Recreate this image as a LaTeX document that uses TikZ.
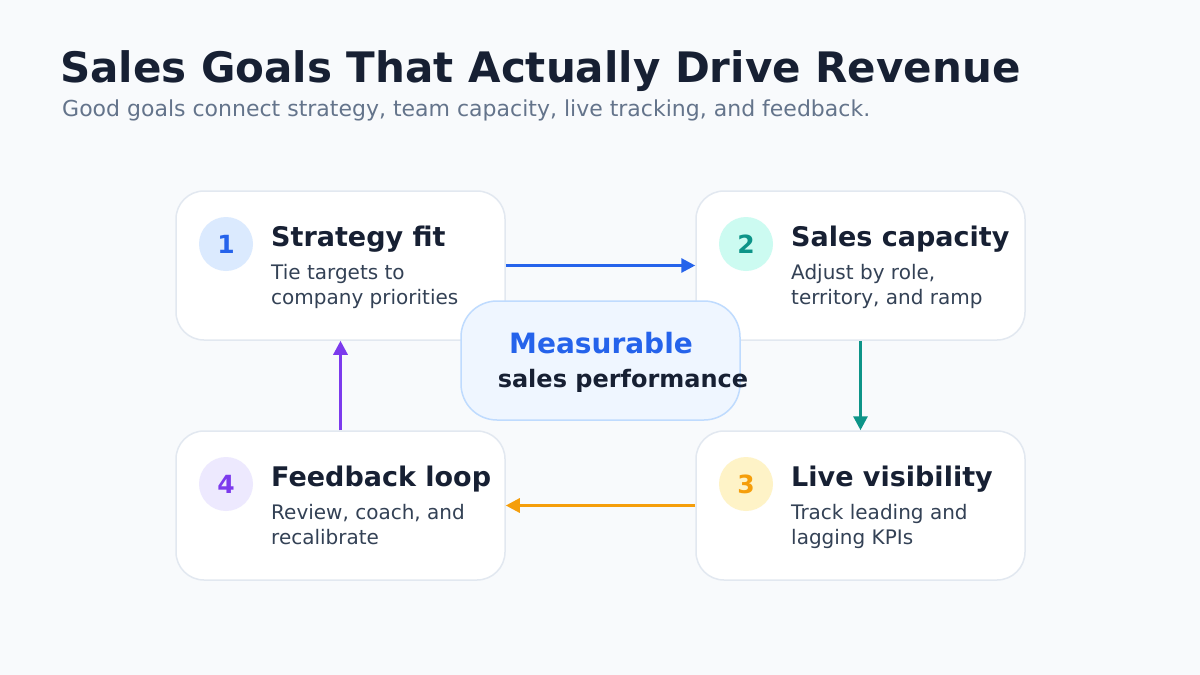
\documentclass[tikz,border=0pt]{standalone}
\usepackage{fontspec}
\setmainfont{DejaVu Sans}
\usetikzlibrary{arrows.meta}
\definecolor{bgc}{HTML}{F8FAFC}
\definecolor{titlec}{HTML}{172033}
\definecolor{subc}{HTML}{64748B}
\definecolor{descc}{HTML}{334155}
\definecolor{cardline}{HTML}{E2E8F0}
\definecolor{blueA}{HTML}{2563EB}
\definecolor{blueL}{HTML}{DBEAFE}
\definecolor{tealA}{HTML}{0D9488}
\definecolor{tealL}{HTML}{CCFBF1}
\definecolor{amberA}{HTML}{F59E0B}
\definecolor{amberL}{HTML}{FEF3C7}
\definecolor{violetA}{HTML}{7C3AED}
\definecolor{violetL}{HTML}{EDE9FE}
\definecolor{hubfill}{HTML}{EFF6FF}
\definecolor{hubline}{HTML}{BFDBFE}
\tikzset{
  card/.style={draw=cardline, line width=1.5pt, fill=white, rounded corners=28pt,
    minimum width=329pt, minimum height=149pt, inner sep=0pt},
  badge/.style={circle, minimum size=54pt, inner sep=0pt, font=\fontsize{25pt}{30pt}\selectfont\bfseries},
  head/.style={anchor=base west, inner sep=0pt, text=titlec, font=\fontsize{27pt}{32pt}\selectfont\bfseries},
  desc/.style={anchor=base west, inner sep=0pt, text=descc, font=\fontsize{20pt}{25pt}\selectfont},
  flow/.style={line width=3pt, -{Triangle[length=14pt,width=14pt]}},
}
\begin{document}
\begin{tikzpicture}[x=1pt,y=-1pt]
\fill[bgc] (0,0) rectangle (1200,675);
\useasboundingbox (0,0) rectangle (1200,675);

\node[anchor=base west, inner sep=0pt, text=titlec, font=\fontsize{42pt}{50pt}\selectfont\bfseries] (title) at (60,82) {Sales Goals That Actually Drive Revenue};
\node[anchor=base west, inner sep=0pt, text=subc, font=\fontsize{22pt}{26pt}\selectfont] (subtitle) at (62,116) {Good goals connect strategy, team capacity, live tracking, and feedback.};

% cards
\node[card] (c1) at (340.5,265.5) {};
\node[card] (c2) at (860.5,265.5) {};
\node[card] (c3) at (860.5,505.5) {};
\node[card] (c4) at (340.5,505.5) {};

% badges
\node[badge, fill=blueL, text=blueA] (n1) at (226,244) {1};
\node[badge, fill=tealL, text=tealA] (n2) at (746,244) {2};
\node[badge, fill=amberL, text=amberA] (n3) at (746,484) {3};
\node[badge, fill=violetL, text=violetA] (n4) at (226,484) {4};

% texts
\node[head] (h1) at (271,246) {Strategy fit};
\node[desc] (d1a) at (271,279) {Tie targets to};
\node[desc] (d1b) at (271,304) {company priorities};

\node[head] (h2) at (791,246) {Sales capacity};
\node[desc] (d2a) at (791,279) {Adjust by role,};
\node[desc] (d2b) at (791,304) {territory, and ramp};

\node[head] (h3) at (791,486) {Live visibility};
\node[desc] (d3a) at (791,519) {Track leading and};
\node[desc] (d3b) at (791,544) {lagging KPIs};

\node[head] (h4) at (271,486) {Feedback loop};
\node[desc] (d4a) at (271,519) {Review, coach, and};
\node[desc] (d4b) at (271,544) {recalibrate};

% connectors
\draw[flow, blueA] (c1.east) -- (c2.west);
\draw[flow, tealA] (c2.south) -- (c3.north);
\draw[flow, amberA] (c3.west) -- (c4.east);
\draw[flow, violetA] (c4.north) -- (c1.south);

% hub
\node[draw=hubline, line width=1.5pt, fill=hubfill, rounded corners=36pt,
  minimum width=279pt, minimum height=119pt, inner sep=0pt] (hub) at (600.5,360.5) {};
\node[anchor=base, inner sep=0pt, text=blueA, font=\fontsize{28pt}{33pt}\selectfont\bfseries] (hubA) at (601,353) {Measurable};
\node[anchor=base, inner sep=0pt, text=titlec, font=\fontsize{24pt}{29pt}\selectfont\bfseries] (hubB) at (623,387) {sales performance};
\end{tikzpicture}
\end{document}
